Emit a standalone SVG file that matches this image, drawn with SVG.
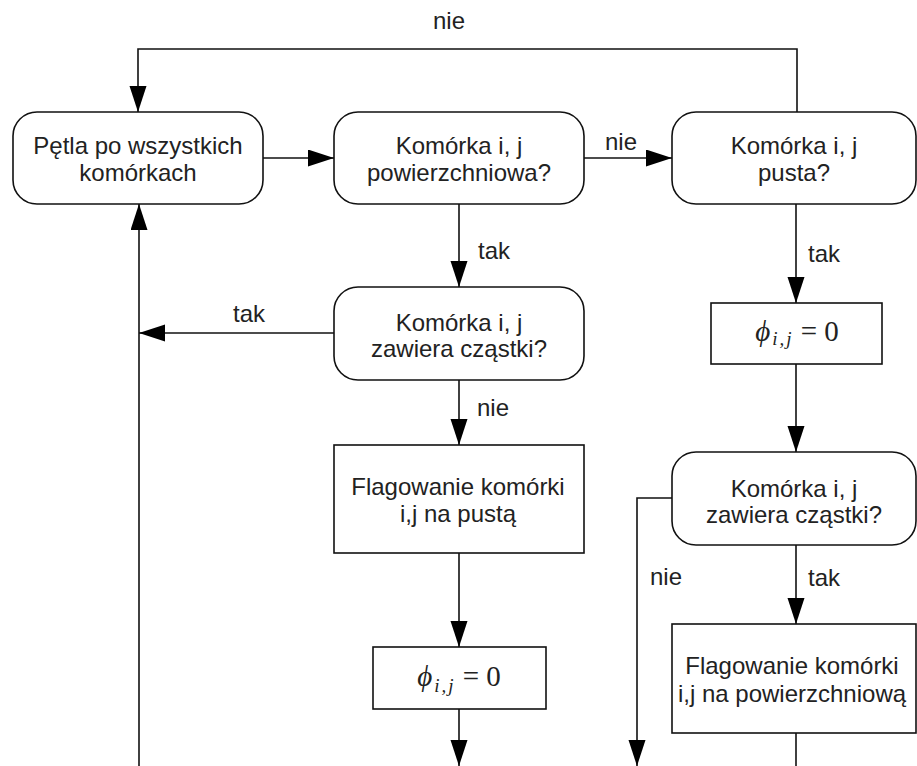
<svg xmlns="http://www.w3.org/2000/svg" width="917" height="766" viewBox="0 0 917 766">
<style>
.n{fill:#fff;stroke:#111;stroke-width:1.6}
.t{font-family:"Liberation Sans",Arial,sans-serif;font-size:24px;fill:#222}
.c{text-anchor:middle}
.m{font-family:"Liberation Serif","Times New Roman",serif;font-size:29px;fill:#222;text-anchor:middle}
.s{font-style:italic;font-size:19px;letter-spacing:2px}
.e{fill:none;stroke:#111;stroke-width:1.6}
</style>
<defs>
<marker id="a" markerUnits="userSpaceOnUse" markerWidth="26" markerHeight="18" refX="26" refY="8.5" orient="auto">
<path d="M0,0 L26,8.5 L0,17 z" fill="#000"/>
</marker>
</defs>
<g id="connectors">
<path class="e" d="M797,112 V49 H138 V112" marker-end="url(#a)"/>
<path class="e" d="M263,158 H334" marker-end="url(#a)"/>
<path class="e" d="M584,158 H672" marker-end="url(#a)"/>
<path class="e" d="M459,204 V287" marker-end="url(#a)"/>
<path class="e" d="M334,333 H139" marker-end="url(#a)"/>
<path class="e" d="M139,766 V204" marker-end="url(#a)"/>
<path class="e" d="M459,380 V445" marker-end="url(#a)"/>
<path class="e" d="M459,553 V647" marker-end="url(#a)"/>
<path class="e" d="M459,709 V766" marker-end="url(#a)"/>
<path class="e" d="M796,204 V303" marker-end="url(#a)"/>
<path class="e" d="M796,364 V452" marker-end="url(#a)"/>
<path class="e" d="M672,498 H637 V766" marker-end="url(#a)"/>
<path class="e" d="M796,545 V624" marker-end="url(#a)"/>
<path class="e" d="M796,733 V766"/>
<text class="t" x="433" y="29">nie</text>
<text class="t" x="605" y="150">nie</text>
<text class="t" x="478" y="259">tak</text>
<text class="t" x="233" y="322">tak</text>
<text class="t" x="477" y="416">nie</text>
<text class="t" x="808" y="262">tak</text>
<text class="t" x="650" y="585">nie</text>
<text class="t" x="808" y="586">tak</text>
</g>
<g id="n1">
<rect class="n" x="13" y="112" width="250" height="92" rx="24"/>
<text class="t c" x="138" y="154">Pętla po wszystkich</text>
<text class="t c" x="138" y="181">komórkach</text>
</g>
<g id="n2">
<rect class="n" x="334" y="112" width="250" height="92" rx="24"/>
<text class="t c" x="459" y="154">Komórka i, j</text>
<text class="t c" x="459" y="181">powierzchniowa?</text>
</g>
<g id="n3">
<rect class="n" x="672" y="112" width="244" height="92" rx="24"/>
<text class="t c" x="794" y="154">Komórka i, j</text>
<text class="t c" x="794" y="181">pusta?</text>
</g>
<g id="n4">
<rect class="n" x="334" y="287" width="250" height="93" rx="24"/>
<text class="t c" x="459" y="331">Komórka i, j</text>
<text class="t c" x="459" y="357">zawiera cząstki?</text>
</g>
<g id="n5">
<rect class="n" x="334" y="445" width="250" height="108"/>
<text class="t c" x="458" y="495">Flagowanie komórki</text>
<text class="t c" x="458" y="522">i,j na pustą</text>
</g>
<g id="n6">
<rect class="n" x="373" y="647" width="173" height="62"/>
<text class="m" x="459" y="686"><tspan font-style="italic">ϕ</tspan><tspan class="s" dx="2" dy="6">i,j</tspan><tspan dy="-6"> = 0</tspan></text>
</g>
<g id="n7">
<rect class="n" x="711" y="303" width="171" height="61"/>
<text class="m" x="797" y="341"><tspan font-style="italic">ϕ</tspan><tspan class="s" dx="2" dy="4">i,j</tspan><tspan dy="-4"> = 0</tspan></text>
</g>
<g id="n8">
<rect class="n" x="672" y="452" width="244" height="93" rx="24"/>
<text class="t c" x="794" y="497">Komórka i, j</text>
<text class="t c" x="794" y="523">zawiera cząstki?</text>
</g>
<g id="n9">
<rect class="n" x="672" y="624" width="244" height="109"/>
<text class="t c" x="792" y="674">Flagowanie komórki</text>
<text class="t c" x="792" y="702">i,j na powierzchniową</text>
</g>
</svg>
